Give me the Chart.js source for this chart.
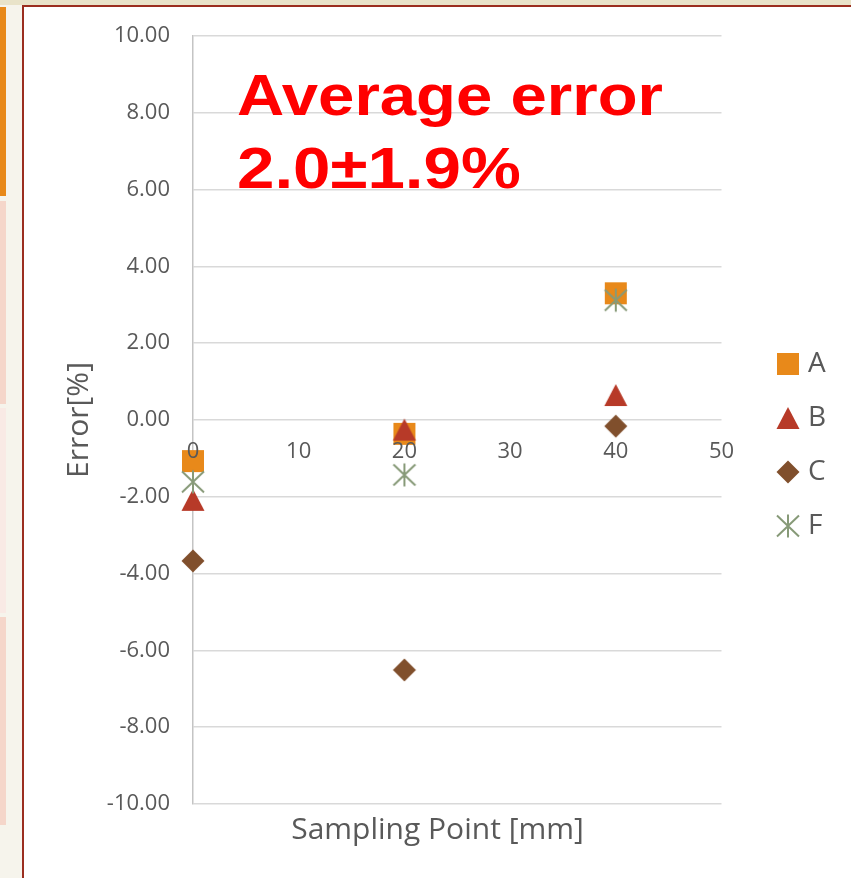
<!DOCTYPE html>
<html>
<head>
<meta charset="utf-8">
<script src="https://cdn.jsdelivr.net/npm/chart.js@4.4.1/dist/chart.umd.min.js"></script>
<style>
  html, body { margin: 0; padding: 0; }
  body { width: 851px; height: 878px; position: relative; overflow: hidden; background: #f6f4ec; }
  .strip { position: absolute; left: 0; top: 0; width: 851px; height: 5px; background: #e9e3c9; }
  .side { position: absolute; left: 0; width: 6px; }
  .frame { position: absolute; left: 22px; top: 5px; width: 829px; height: 873px;
           border-top: 2px solid #9b2e1f; border-left: 2px solid #9b2e1f; background: #fff; }
  #chart { position: absolute; left: 0; top: 0; }
</style>
</head>
<body>
<div class="strip"></div>
<div class="side" style="top:7px;height:189px;background:#e8891a"></div>
<div class="side" style="top:201px;height:203px;background:#f5d6ca"></div>
<div class="side" style="top:408px;height:205px;background:#f9eae5"></div>
<div class="side" style="top:617px;height:208px;background:#f5d6ca"></div>
<div class="frame">
  <canvas id="chart" width="827" height="871"></canvas>
</div>
<script>
// sampling points [mm]
const positions = [0, 20, 40];
// error [%] per sensor
const seriesA = [-1.07, -0.36, 3.30];
const seriesB = [-2.08, -0.25, 0.65];
const seriesC = [-3.67, -6.51, -0.16];
const seriesF = [-1.61, -1.43, 3.12];
const seriesNames = ['A', 'B', 'C', 'F'];

const xTicks = { min: 0, max: 50, step: 10 };
const yTicks = { min: -10, max: 10, step: 2 };

const gray = '#595959';
const font = "'Open Sans', 'DejaVu Sans', sans-serif";

// excel style markers, drawn centred on a small canvas
function marker(draw) {
    const c = document.createElement('canvas');
    c.width = 26;
    c.height = 26;
    draw(c.getContext('2d'));
    return c;
}
const squareMark = marker(g => {
    g.fillStyle = '#e8891a';
    g.fillRect(2, 2, 22, 22);
});
const triangleMark = marker(g => {
    g.fillStyle = '#b73a28';
    g.beginPath();
    g.moveTo(13, 2); g.lineTo(24.5, 24); g.lineTo(1.5, 24);
    g.closePath();
    g.fill();
});
const diamondMark = marker(g => {
    g.fillStyle = '#804f2c';
    g.beginPath();
    g.moveTo(13, 1.5); g.lineTo(24.5, 13); g.lineTo(13, 24.5); g.lineTo(1.5, 13);
    g.closePath();
    g.fill();
});
const starMark = marker(g => {
    g.strokeStyle = '#879a78';
    g.lineWidth = 2;
    g.beginPath();
    g.moveTo(13, 1.5); g.lineTo(13, 24.5);
    g.moveTo(2, 2.5); g.lineTo(24, 23.5);
    g.moveTo(24, 2.5); g.lineTo(2, 23.5);
    g.stroke();
});

const toPoints = values => values.map((v, i) => ({ x: positions[i], y: v }));

const allSeries = [seriesA, seriesB, seriesC, seriesF];
const marks = [squareMark, triangleMark, diamondMark, starMark];
const datasets = allSeries.map((s, i) => ({
    label: seriesNames[i],
    data: toPoints(s),
    pointStyle: marks[i],
    clip: false,
    order: allSeries.length - i
}));

// legend width, so the plot right edge lands where it should
const legendFont = 28;
const legendPad = 26;
const legendBox = 12;
const m = document.createElement('canvas').getContext('2d');
m.font = legendFont + 'px ' + font;
const maxText = Math.max(...seriesNames.map(t => m.measureText(t).width));
const legendWidth = legendPad + legendBox + legendFont / 2 + maxText + 10.5;
const legendLeft = 731.5;
const plotRight = 697;

const averageNote = {
    id: 'averageNote',
    beforeDatasetsDraw(chart) {
        const ctx = chart.ctx;
        ctx.save();
        ctx.fillStyle = '#ff0000';
        ctx.font = "bold 58px 'Liberation Sans', Arial, sans-serif";
        ctx.textBaseline = 'alphabetic';
        ctx.translate(213, 0);
        ctx.scale(1.126, 1);
        ctx.fillText('Average error', 0, 108);
        ctx.scale(1.03, 1);
        ctx.fillText('2.0\u00b11.9%', 0, 181);
        ctx.restore();
    }
};

new Chart(document.getElementById('chart'), {
    type: 'scatter',
    data: { datasets: datasets },
    options: {
        responsive: false,
        animation: false,
        events: [],
        layout: {
            padding: { top: 29, left: 0, bottom: 24, right: 0 }
        },
        scales: {
            x: {
                type: 'linear',
                min: xTicks.min,
                max: xTicks.max,
                position: { y: 0 },
                grid: { display: false },
                border: { display: false },
                ticks: {
                    z: 1,
                    stepSize: xTicks.step,
                    padding: 11,
                    color: gray,
                    font: { family: font, size: 22 }
                }
            },
            y: {
                type: 'linear',
                min: yTicks.min,
                max: yTicks.max,
                position: 'left',
                afterFit: s => { s.width = 169; },
                grid: { color: '#d9d9d9', lineWidth: 1.5, drawTicks: true, tickLength: 23, tickColor: 'rgba(0,0,0,0)' },
                border: { color: '#c4c4c4', width: 1.5 },
                ticks: {
                    stepSize: yTicks.step,
                    padding: 0,
                    color: gray,
                    font: { family: font, size: 22 },
                    callback: v => v.toFixed(2)
                },
                title: {
                    display: true,
                    text: 'Error[%]',
                    color: gray,
                    font: { family: font, size: 30 },
                    padding: { top: 37, bottom: 0 }
                }
            },
            // empty space between plot and legend
            gap: {
                type: 'linear',
                position: 'right',
                afterFit: s => { s.width = legendLeft - plotRight; },
                grid: { display: false },
                border: { display: false },
                ticks: { display: false }
            },
            // empty space right of the legend
            edge: {
                type: 'linear',
                position: 'right',
                weight: 1500,
                afterFit: s => { s.width = 827 - legendLeft - legendWidth; },
                grid: { display: false },
                border: { display: false },
                ticks: { display: false }
            }
        },
        plugins: {
            tooltip: { enabled: false },
            title: {
                display: true,
                position: 'bottom',
                text: 'Sampling Point [mm]',
                color: gray,
                font: { family: font, size: 30, weight: 'normal' },
                padding: { top: 8, bottom: 6 }
            },
            legend: {
                position: 'right',
                labels: {
                    usePointStyle: true,
                    boxWidth: legendBox,
                    padding: legendPad,
                    color: gray,
                    font: { family: font, size: legendFont },
                    sort: (a, b) => a.datasetIndex - b.datasetIndex
                }
            }
        }
    },
    plugins: [averageNote]
});
</script>
</body>
</html>
